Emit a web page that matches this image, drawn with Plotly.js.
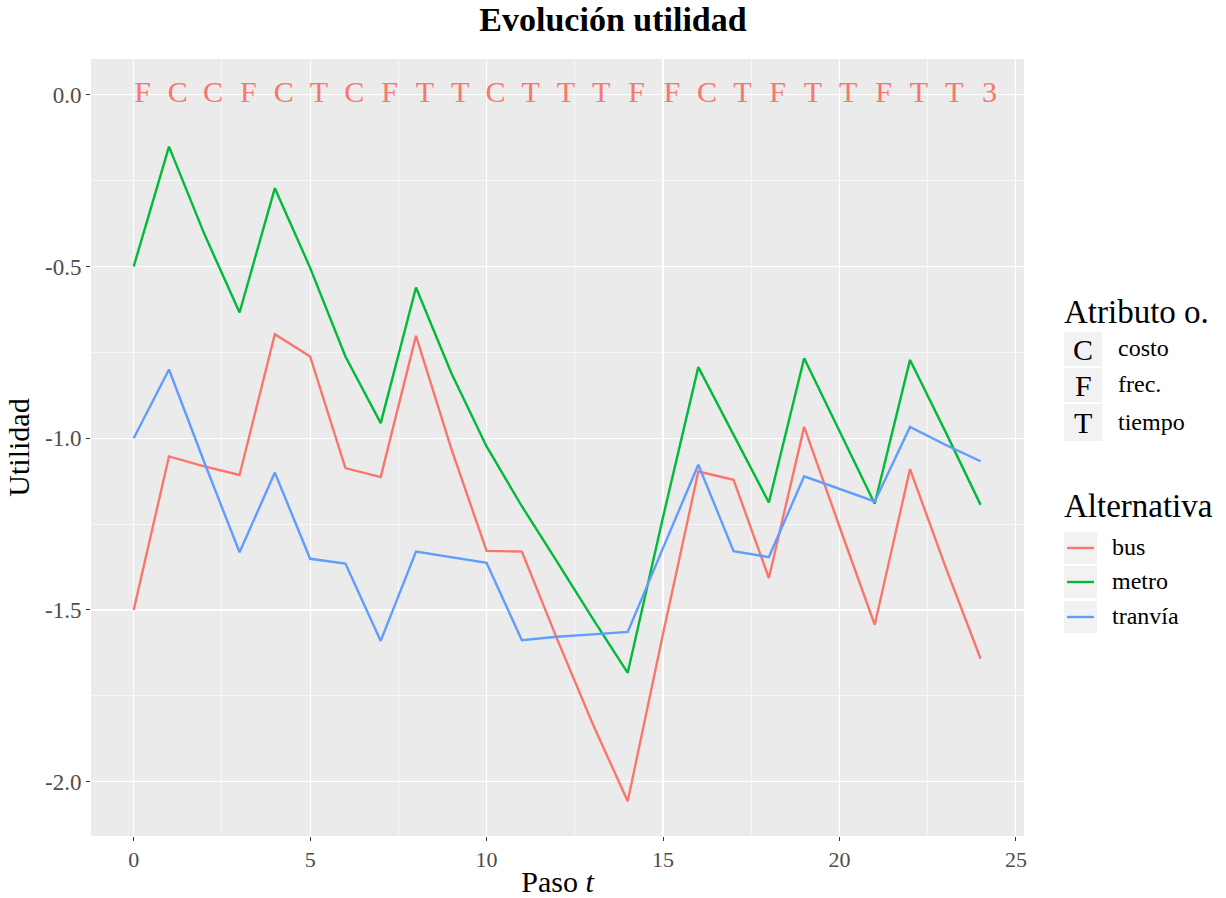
<!DOCTYPE html>
<html>
<head>
<meta charset="utf-8">
<script src="https://cdn.plot.ly/plotly-3.0.1.min.js"></script>
<style>html,body{margin:0;padding:0;background:#fff;}#chart{width:1226px;height:898px;}</style>
</head>
<body>
<div id="chart"></div>
<script>
// ---- data ----
const steps = [0,1,2,3,4,5,6,7,8,9,10,11,12,13,14,15,16,17,18,19,20,21,22,23,24];
const bus = [-1.50,-1.053,-1.082,-1.107,-0.697,-0.762,-1.087,-1.113,-0.702,-1.03,-1.328,-1.330,-1.585,-1.83,-2.057,-1.57,-1.097,-1.121,-1.407,-0.967,-1.257,-1.543,-1.09,-1.373,-1.642];
const metro = [-0.50,-0.151,-0.405,-0.634,-0.272,-0.504,-0.762,-0.956,-0.561,-0.81,-1.024,-1.198,-1.36,-1.524,-1.683,-1.23,-0.793,-0.99,-1.187,-0.767,-0.98,-1.191,-0.772,-0.98,-1.194];
const tranvia = [-1.0,-0.80,-1.07,-1.332,-1.10,-1.351,-1.365,-1.59,-1.330,-1.347,-1.363,-1.588,-1.578,-1.571,-1.564,-1.32,-1.077,-1.329,-1.346,-1.111,-1.148,-1.184,-0.967,-1.019,-1.067];
const attrLabels = ['F','C','C','F','C','T','C','F','T','T','C','T','T','T','F','F','C','T','F','T','T','F','T','T','3'];
const labelOffset = 0.25;
const labelLevel = 0;
const seriesNames = ['bus','metro','tranvía'];
const seriesColors = ['#F8766D','#00BA38','#619CFF'];
const attrKeys = ['C','F','T'];
const attrNames = ['costo','frec.','tiempo'];
const yTickVals = [0,-0.5,-1,-1.5,-2];
const yTickText = ['0.0','-0.5','-1.0','-1.5','-2.0'];
const xTickVals = [0,5,10,15,20,25];

const FONT = 'Liberation Serif, DejaVu Serif, serif';

// panel geometry (px)
const PL = 91, PR = 1024, PT = 59, PB = 836;
const px2x = p => (p - PL) / (PR - PL);
const py2y = p => (PB - p) / (PB - PT);

const seriesData = [bus, metro, tranvia];
const traces = seriesData.map((vals, i) => ({
  type: 'scatter', mode: 'lines', x: steps, y: vals, name: seriesNames[i],
  line: {color: seriesColors[i], width: 2.4}, showlegend: false, hoverinfo: 'skip'
}));
traces.push({
  type: 'scatter', mode: 'text', x: steps.map(s => s + labelOffset), y: steps.map(() => labelLevel),
  text: attrLabels, textposition: 'middle center',
  textfont: {family: FONT, size: 30, color: '#F8766D'}, showlegend: false, hoverinfo: 'skip', cliponaxis: false
});

const shapes = [];
const annotations = [];
// Legend: Atributo o.
annotations.push({xref:'paper', yref:'paper', x: px2x(1062), y: py2y(312), xanchor:'left', yanchor:'middle',
  text:'Atributo o.', showarrow:false, font:{family:FONT, size:33, color:'#000'}});
const attrRows = [[332,366],[368,402],[404,441]];
attrRows.forEach((r, i) => {
  shapes.push({type:'rect', xref:'paper', yref:'paper', x0:px2x(1064), x1:px2x(1102), y0:py2y(r[1]), y1:py2y(r[0]),
    fillcolor:'#F2F2F2', line:{width:0}, layer:'below'});
  annotations.push({xref:'paper', yref:'paper', x: px2x(1083), y: py2y((r[0]+r[1])/2), xanchor:'center', yanchor:'middle',
    text: attrKeys[i], showarrow:false, font:{family:FONT, size:30, color:'#000'}});
  annotations.push({xref:'paper', yref:'paper', x: px2x(1116), y: py2y((r[0]+r[1])/2 - 1), xanchor:'left', yanchor:'middle',
    text: attrNames[i], showarrow:false, font:{family:FONT, size:24, color:'#000'}});
});
// Legend: Alternativa
annotations.push({xref:'paper', yref:'paper', x: px2x(1062), y: py2y(506), xanchor:'left', yanchor:'middle',
  text:'Alternativa', showarrow:false, font:{family:FONT, size:33, color:'#000'}});
const altRows = [[532,564],[566,598],[601,633]];
altRows.forEach((r, i) => {
  const cy = (r[0]+r[1])/2;
  shapes.push({type:'rect', xref:'paper', yref:'paper', x0:px2x(1064), x1:px2x(1097), y0:py2y(r[1]), y1:py2y(r[0]),
    fillcolor:'#F2F2F2', line:{width:0}, layer:'below'});
  shapes.push({type:'line', xref:'paper', yref:'paper', x0:px2x(1067), x1:px2x(1094), y0:py2y(cy), y1:py2y(cy),
    line:{color:seriesColors[i], width:2.4}});
  annotations.push({xref:'paper', yref:'paper', x: px2x(1110), y: py2y(cy - 1), xanchor:'left', yanchor:'middle',
    text: seriesNames[i], showarrow:false, font:{family:FONT, size:24, color:'#000'}});
});

const layout = {
  width: 1226, height: 898,
  margin: {l: PL, r: 1226 - PR, t: PT, b: 898 - PB},
  paper_bgcolor: '#FFFFFF', plot_bgcolor: '#EBEBEB',
  font: {family: FONT, color: '#000'},
  title: {text: '<b>Evolución utilidad</b>', font: {family: FONT, size: 34, color: '#000'},
          x: 0.5, xref: 'container', xanchor: 'center', y: 1 - 19/898, yanchor: 'middle'},
  xaxis: {range: [-1.21, 25.23], tickvals: xTickVals, ticks: 'outside', ticklen: 4, tickcolor: '#333333', tickwidth: 1,
    tickfont: {family: FONT, size: 22, color: '#4D4D4D'}, showgrid: true, gridcolor: '#FFFFFF', gridwidth: 1.2,
    minor: {dtick: 2.5, tick0: 0, showgrid: true, gridcolor: '#FFFFFF', gridwidth: 0.6, ticks: ''},
    zeroline: false, showline: false,
    title: {text: 'Paso <i>t</i>', font: {family: FONT, size: 30, color: '#000'}, standoff: 4}},
  yaxis: {range: [-2.158, 0.104], tickvals: yTickVals, ticktext: yTickText, ticks: 'outside', ticklen: 4, tickcolor: '#333333', tickwidth: 1,
    tickfont: {family: FONT, size: 23, color: '#4D4D4D'}, showgrid: true, gridcolor: '#FFFFFF', gridwidth: 1.2,
    minor: {dtick: 0.25, tick0: 0, showgrid: true, gridcolor: '#FFFFFF', gridwidth: 0.6, ticks: ''},
    zeroline: false, showline: false,
    title: {text: 'Utilidad', font: {family: FONT, size: 30, color: '#000'}, standoff: 6}},
  shapes: shapes,
  annotations: annotations,
  showlegend: false
};

Plotly.newPlot('chart', traces, layout, {staticPlot: true, displayModeBar: false});
</script>
</body>
</html>
